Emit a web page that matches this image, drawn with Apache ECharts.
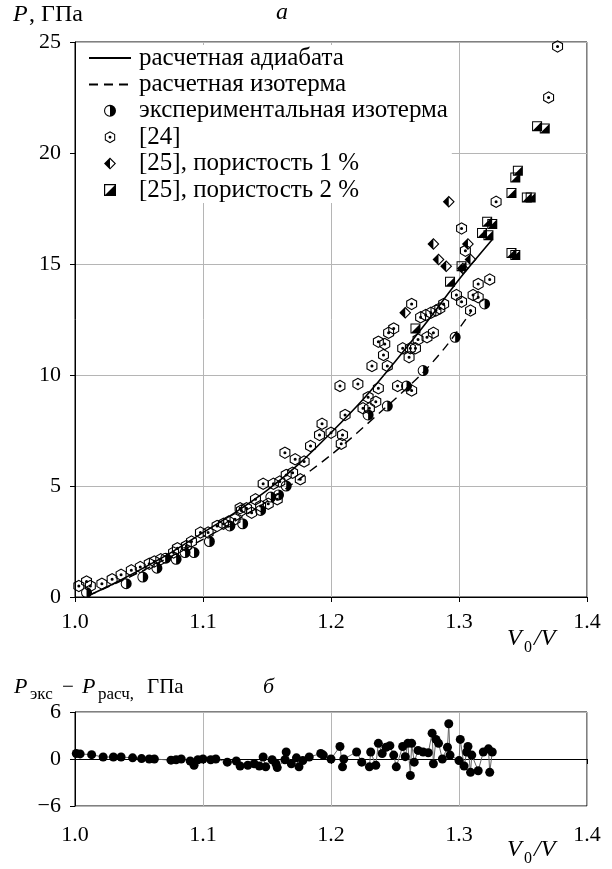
<!DOCTYPE html>
<html><head><meta charset="utf-8">
<script src="https://cdn.jsdelivr.net/npm/echarts@6/dist/echarts.min.js"></script>
<style>html,body{margin:0;padding:0;background:#fff}#c{width:612px;height:869px}</style>
</head><body><div id="c"></div>
<script>
// ---------- data ----------
const xRange = [1.0, 1.4];
const xStep = 0.1;
const yTopRange = [0, 25];
const yTopStep = 5;
const yBotRange = [-6, 6];
const yBotStep = 6;

const names = ['расчетная адиабата', 'расчетная изотерма', 'экспериментальная изотерма',
  '[24]', '[25], пористость 1 %', '[25], пористость 2 %'];

const adiabata = [[1.01,0.05],[1.03,0.6],[1.05,1.2],[1.075,2.0],[1.1,2.9],[1.125,3.8],[1.15,4.8],
  [1.175,6.0],[1.2,7.4],[1.225,8.9],[1.25,10.6],[1.275,12.4],[1.3,14.3],[1.326,16.1]];

const izoterma = [[1.01,0.05],[1.05,1.1],[1.1,2.6],[1.15,4.3],[1.2,6.4],[1.24,8.4],[1.27,10.0],
  [1.29,11.3],[1.31,12.9]];

const expIso = [[1.009,0.2],[1.040,0.6],[1.053,0.9],[1.064,1.3],[1.071,1.75],[1.079,1.7],[1.086,2.0],
  [1.093,2.0],[1.105,2.5],[1.121,3.2],[1.131,3.3],[1.145,3.9],[1.153,4.5],[1.159,4.6],[1.165,5.0],
  [1.229,8.2],[1.244,8.6],[1.259,9.5],[1.272,10.2],[1.297,11.7],[1.320,13.2]];

const ref24 = [[1.003,0.5],[1.009,0.7],[1.012,0.5],[1.021,0.6],[1.029,0.8],[1.036,1.0],[1.044,1.2],
  [1.051,1.35],[1.058,1.5],[1.062,1.6],[1.067,1.7],[1.077,2.0],[1.080,2.2],[1.087,2.3],[1.091,2.5],
  [1.098,2.9],[1.104,2.9],[1.111,3.2],[1.116,3.3],[1.120,3.4],[1.125,3.5],[1.129,4.0],[1.130,3.9],
  [1.134,4.0],[1.138,3.8],[1.141,4.4],[1.145,4.1],[1.147,5.1],[1.151,4.2],[1.155,5.1],[1.158,4.4],
  [1.160,5.2],[1.164,6.5],[1.165,5.5],[1.170,5.6],[1.172,6.2],[1.176,5.3],[1.179,6.1],[1.184,6.8],
  [1.191,7.3],[1.193,7.8],[1.200,7.4],[1.207,9.5],[1.208,6.9],[1.209,7.3],[1.211,8.2],[1.221,9.6],
  [1.225,8.5],[1.229,9.0],[1.230,8.5],[1.232,10.4],[1.235,8.8],[1.237,9.4],[1.237,11.5],[1.241,10.9],
  [1.242,11.4],[1.244,10.4],[1.245,11.9],[1.249,12.1],[1.252,9.5],[1.256,11.2],[1.261,10.8],
  [1.262,11.2],[1.263,9.3],[1.263,13.2],[1.266,11.2],[1.268,11.6],[1.270,12.6],[1.274,12.7],
  [1.275,11.7],[1.278,12.8],[1.280,11.9],[1.282,12.9],[1.285,13.0],[1.288,13.2],[1.298,13.6],
  [1.302,13.3],[1.302,16.6],[1.305,15.6],[1.309,12.9],[1.311,13.6],[1.315,13.5],[1.315,14.1],
  [1.324,14.3],[1.329,17.8],[1.370,22.5],[1.377,24.8]];

const ref25p1 = [[1.258,12.8],[1.280,15.9],[1.284,15.2],[1.290,14.9],[1.292,17.8],[1.303,14.8],
  [1.307,15.9],[1.309,15.2]];

const ref25p2 = [[1.266,12.1],[1.293,14.2],[1.302,14.9],[1.318,16.4],[1.323,16.3],[1.322,16.9],
  [1.326,16.8],[1.341,18.2],[1.344,18.9],[1.346,19.2],[1.341,15.5],[1.344,15.4],[1.353,18.0],
  [1.356,18.0],[1.361,21.2],[1.367,21.1]];

const diff = [[1.001,0.7],[1.004,0.65],[1.013,0.55],[1.022,0.25],[1.030,0.25],[1.036,0.25],[1.045,0.15],
  [1.052,0.05],[1.058,0.0],[1.062,0.0],[1.075,-0.15],[1.079,-0.1],[1.083,0.0],[1.090,-0.25],[1.093,-0.8],
  [1.096,-0.1],[1.100,0.0],[1.106,-0.1],[1.110,0.0],[1.119,-0.4],[1.126,-0.25],[1.129,-0.9],[1.135,-0.8],
  [1.140,-0.6],[1.144,-0.9],[1.147,0.25],[1.149,-1.0],[1.154,-0.1],[1.157,-0.6],[1.158,-1.1],[1.164,-0.1],
  [1.165,0.9],[1.169,-0.6],[1.173,0.15],[1.175,-1.0],[1.178,-0.2],[1.183,0.25],[1.192,0.7],[1.194,0.5],
  [1.200,0.0],[1.207,1.6],[1.209,-1.0],[1.210,0.0],[1.220,0.9],[1.224,-0.4],[1.230,-1.0],[1.231,0.9],
  [1.235,-0.8],[1.237,2.0],[1.240,0.7],[1.243,1.5],[1.246,1.7],[1.249,0.5],[1.251,-1.0],[1.256,1.6],
  [1.258,0.3],[1.260,2.0],[1.262,-2.1],[1.263,2.0],[1.265,-0.4],[1.268,1.1],[1.272,0.9],[1.276,0.8],
  [1.279,3.3],[1.280,-0.6],[1.282,2.5],[1.284,2.0],[1.287,0.0],[1.291,1.5],[1.292,4.5],[1.293,0.5],
  [1.300,-0.2],[1.301,2.5],[1.304,-0.9],[1.306,0.9],[1.307,1.6],[1.309,-1.7],[1.310,0.5],[1.315,-1.5],
  [1.319,0.9],[1.323,1.3],[1.324,-1.7],[1.326,0.9]];

// ---------- styles ----------
const FF = "'Liberation Serif','DejaVu Serif',serif";
const SYM_HALF = 'path://M10,0A10,10 0 1,1 10,20A10,10 0 1,1 10,0ZM10,1.8A8.2,8.2 0 1,0 10,18.2A8.2,8.2 0 1,0 10,1.8ZM10,0A10,10 0 0,1 10,20Z';
const SYM_HEX = 'path://M10,0L18.66,5L18.66,15L10,20L1.34,15L1.34,5ZM10,2L3.07,6L3.07,14L10,18L16.93,14L16.93,6ZM10,7.6A2.4,2.4 0 1,1 10,12.4A2.4,2.4 0 1,1 10,7.6Z';
const SYM_DIA = 'path://M10,0L20,10L10,20L0,10ZM10,2.6L2.6,10L10,17.4L17.4,10ZM10,0L10,20L0,10Z';
const SYM_SQ = 'path://M0,0L20,0L20,20L0,20ZM2,2L2,18L18,18L18,2ZM20,0L20,20L0,20Z';

const axisCommonX = (gi, margin) => ({
  type: 'value', gridIndex: gi, min: xRange[0], max: xRange[1], interval: xStep,
  axisLine: {show: true, lineStyle: {color: '#000', width: 1}},
  axisTick: {show: true, inside: false, length: 5, lineStyle: {color: '#000'}},
  splitLine: {show: true, lineStyle: {color: '#b5b5b5', width: 1}},
  axisLabel: {color: '#000', fontFamily: FF, fontSize: 22, margin: margin, formatter: v => v.toFixed(1)}
});

const hideSym = {opacity: 0, borderWidth: 0};

const chart = echarts.init(document.getElementById('c'), null, {renderer: 'canvas'});
chart.setOption({
  backgroundColor: '#fff',
  animation: false,
  grid: [
    {left: 75, right: 25, top: 42, height: 555, show: true, borderColor: '#000', borderWidth: 1, backgroundColor: 'transparent'},
    {left: 75, right: 25, top: 712, height: 94, show: true, borderColor: '#000', borderWidth: 1, backgroundColor: 'transparent'}
  ],
  xAxis: [axisCommonX(0, 14), axisCommonX(1, 18)],
  yAxis: [
    {type: 'value', gridIndex: 0, min: yTopRange[0], max: yTopRange[1], interval: yTopStep,
      axisLine: {show: true, lineStyle: {color: '#000'}},
      axisTick: {show: true, length: 5, lineStyle: {color: '#000'}},
      splitLine: {show: true, lineStyle: {color: '#b5b5b5', width: 1}},
      axisLabel: {color: '#000', fontFamily: FF, fontSize: 22, margin: 14}},
    {type: 'value', gridIndex: 1, min: yBotRange[0], max: yBotRange[1], interval: yBotStep,
      axisLine: {show: true, lineStyle: {color: '#000'}},
      axisTick: {show: true, length: 5, lineStyle: {color: '#000'}},
      splitLine: {show: true, lineStyle: {color: '#b5b5b5', width: 1}},
      axisLabel: {color: '#000', fontFamily: FF, fontSize: 22, margin: 14,
        formatter: v => v < 0 ? '\u2212' + Math.abs(v) : String(v)}}
  ],
  legend: {
    orient: 'vertical', left: 76, top: 45, padding: [0, 4, 0, 12], backgroundColor: '#fff',
    itemWidth: 42, itemHeight: 12, itemGap: 0.4, selectedMode: false,
    textStyle: {fontFamily: FF, fontSize: 25, lineHeight: 26, color: '#000', padding: [0, 0, 0, 3]},
    data: [
      {name: names[0], itemStyle: hideSym},
      {name: names[1], itemStyle: hideSym},
      names[2], names[3], names[4], names[5]
    ]
  },
  series: [
    {name: names[0], type: 'line', xAxisIndex: 0, yAxisIndex: 0, data: adiabata, smooth: 0.3,
      symbol: 'none', lineStyle: {color: '#000', width: 1.6}, itemStyle: {color: '#000'}, z: 3},
    {name: names[1], type: 'line', xAxisIndex: 0, yAxisIndex: 0, data: izoterma, smooth: 0.3,
      symbol: 'none', lineStyle: {color: '#000', width: 1.4, type: [9, 6]}, itemStyle: {color: '#000'}, z: 3},
    {name: names[2], type: 'scatter', xAxisIndex: 0, yAxisIndex: 0, data: expIso, symbol: SYM_HALF,
      symbolSize: 11, itemStyle: {color: '#000', borderWidth: 0, opacity: 1}, z: 4},
    {name: names[3], type: 'scatter', xAxisIndex: 0, yAxisIndex: 0, data: ref24, symbol: SYM_HEX,
      symbolSize: [11, 12.5], itemStyle: {color: '#000', borderWidth: 0, opacity: 1}, z: 5},
    {name: names[4], type: 'scatter', xAxisIndex: 0, yAxisIndex: 0, data: ref25p1, symbol: SYM_DIA,
      symbolSize: 12, itemStyle: {color: '#000', borderWidth: 0, opacity: 1}, z: 6},
    {name: names[5], type: 'scatter', xAxisIndex: 0, yAxisIndex: 0, data: ref25p2, symbol: SYM_SQ,
      symbolSize: 10, itemStyle: {color: '#000', borderWidth: 0, opacity: 1}, z: 6},
    {name: 'diff', type: 'line', xAxisIndex: 1, yAxisIndex: 1, data: diff, symbol: 'circle',
      symbolSize: 9, showAllSymbol: true, itemStyle: {color: '#000'}, lineStyle: {color: '#666', width: 1}, z: 3}
  ],
  graphic: [
    {type: 'text', left: 13, top: 3, style: {text: 'P', font: 'italic 24px ' + FF, fill: '#000'}},
    {type: 'text', left: 29, top: 3, style: {text: ', ГПа', font: '24px ' + FF, fill: '#000'}},
    {type: 'text', left: 276, top: 1, style: {text: 'а', font: 'italic 24px ' + FF, fill: '#000'}},
    {type: 'text', left: 507, top: 627, style: {text: 'V', font: 'italic 24px ' + FF, fill: '#000'}},
    {type: 'text', left: 524, top: 640, style: {text: '0', font: '16px ' + FF, fill: '#000'}},
    {type: 'text', left: 534, top: 627, style: {text: '/V', font: 'italic 24px ' + FF, fill: '#000'}},
    {type: 'text', left: 14, top: 676, style: {text: 'P', font: 'italic 22px ' + FF, fill: '#000'}},
    {type: 'text', left: 30, top: 686, style: {text: 'экс', font: '17px ' + FF, fill: '#000'}},
    {type: 'text', left: 62, top: 677, style: {text: '\u2212', font: '21px ' + FF, fill: '#000'}},
    {type: 'text', left: 82, top: 676, style: {text: 'P', font: 'italic 22px ' + FF, fill: '#000'}},
    {type: 'text', left: 98, top: 686, style: {text: 'расч,', font: '17px ' + FF, fill: '#000'}},
    {type: 'text', left: 147, top: 677, style: {text: 'ГПа', font: '21px ' + FF, fill: '#000'}},
    {type: 'text', left: 263, top: 676, style: {text: 'б', font: 'italic 22px ' + FF, fill: '#000'}},
    {type: 'text', left: 507, top: 838, style: {text: 'V', font: 'italic 24px ' + FF, fill: '#000'}},
    {type: 'text', left: 524, top: 851, style: {text: '0', font: '16px ' + FF, fill: '#000'}},
    {type: 'text', left: 534, top: 838, style: {text: '/V', font: 'italic 24px ' + FF, fill: '#000'}}
  ]
});
</script></body></html>
